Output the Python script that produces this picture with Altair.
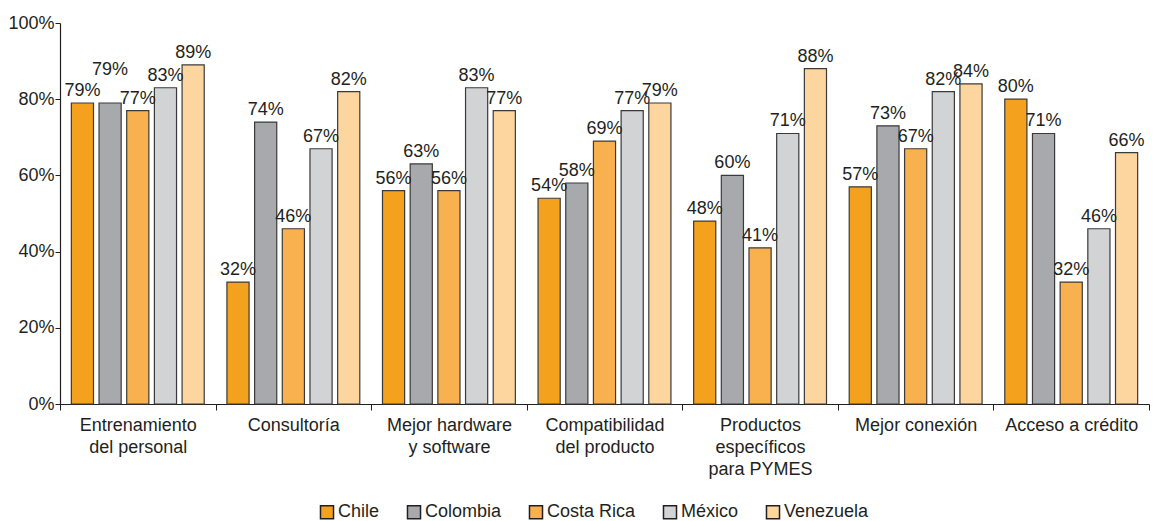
import altair as alt
import pandas as pd

categories = [
    "Entrenamiento|del personal",
    "Consultoría",
    "Mejor hardware|y software",
    "Compatibilidad|del producto",
    "Productos|específicos|para PYMES",
    "Mejor conexión",
    "Acceso a crédito",
]
countries = ["Chile", "Colombia", "Costa Rica", "México", "Venezuela"]
chile = [79, 32, 56, 54, 48, 57, 80]
colombia = [79, 74, 63, 58, 60, 73, 71]
costa_rica = [77, 46, 56, 69, 41, 67, 32]
mexico = [83, 67, 83, 77, 71, 82, 46]
venezuela = [89, 82, 77, 79, 88, 84, 66]
colors = ["#F4A11D", "#A7A9AC", "#F8B14E", "#D1D3D4", "#FDD59E"]

series = [chile, colombia, costa_rica, mexico, venezuela]
rows = []
for c, vals in zip(countries, series):
    for cat, v in zip(categories, vals):
        rows.append({"cat": cat, "country": c, "value": v / 100})
df = pd.DataFrame(rows)

FONT = "Liberation Sans"
TXT = "#231F20"
FS = 18

base = alt.Chart(df).encode(
    x=alt.X("cat:N", sort=categories, title=None,
            scale=alt.Scale(paddingInner=0, paddingOuter=0),
            axis=alt.Axis(labelExpr="split(datum.label, '|')", labelAngle=0,
                          tickBand="extent", labelFontSize=FS, labelFont=FONT,
                          labelColor=TXT, labelPadding=6, labelLineHeight=22,
                          domainColor=TXT, tickColor=TXT, tickSize=6,
                          labelLimit=200)),
    xOffset=alt.XOffset("country:N", sort=countries,
                        scale=alt.Scale(paddingInner=0.2, paddingOuter=0.41)),
)

bars = base.mark_bar(stroke="#3a3a3a", strokeWidth=1.2).encode(
    y=alt.Y("value:Q", title=None,
            scale=alt.Scale(domain=[0, 1], nice=False),
            axis=alt.Axis(format=".0%", values=[0, 0.2, 0.4, 0.6, 0.8, 1.0],
                          grid=False, labelFontSize=FS, labelFont=FONT,
                          labelColor=TXT, domainColor=TXT,
                          tickColor=TXT, tickSize=5, labelPadding=1)),
    color=alt.Color("country:N", sort=countries,
                    scale=alt.Scale(domain=countries, range=colors),
                    legend=alt.Legend(title=None, orient="none", direction="horizontal",
                                      legendX=258, legendY=480,
                                      symbolType="square", symbolSize=170,
                                      symbolStrokeColor=TXT, symbolStrokeWidth=1.5,
                                      labelFontSize=FS, labelFont=FONT, labelColor=TXT,
                                      columnPadding=24, labelOffset=2)),
)

labels = base.transform_calculate(
    label_y=f"datum.value + ((datum.cat == '{categories[0]}' && datum.country == 'Colombia') ? 0.055 : 0)"
).mark_text(dy=-12, fontSize=FS, font=FONT, color=TXT).encode(
    y=alt.Y("label_y:Q"),
    text=alt.Text("value:Q", format=".0%"),
)

chart = (bars + labels).properties(
    width=1089, height=381,
    padding={"left": 60, "top": 23, "right": 7, "bottom": 117},
    autosize="none",
).configure_view(stroke=None).configure_axisX(domainWidth=1.2).configure_axisY(domainWidth=1.2)

chart.save("out.html", embed_options={"renderer": "svg", "actions": False})
